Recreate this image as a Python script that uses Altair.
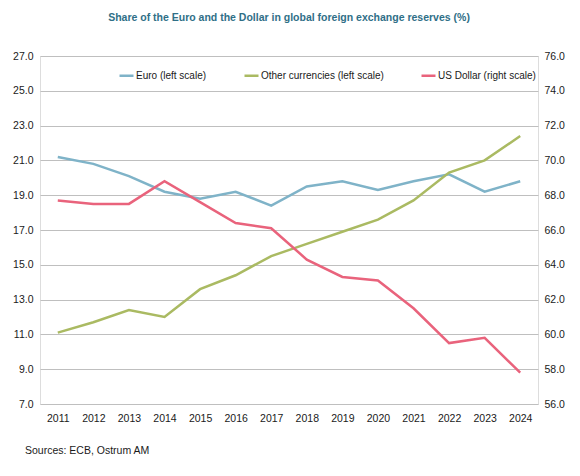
import altair as alt
import pandas as pd

years = [str(y) for y in range(2011, 2025)]
euro = [21.2, 20.8, 20.1, 19.2, 18.8, 19.2, 18.4, 19.5, 19.8, 19.3, 19.8, 20.2, 19.2, 19.8]
other = [11.1, 11.7, 12.4, 12.0, 13.6, 14.4, 15.5, 16.2, 16.9, 17.6, 18.7, 20.3, 21.0, 22.4]
usd = [67.7, 67.5, 67.5, 68.8, 67.6, 66.4, 66.1, 64.3, 63.3, 63.1, 61.5, 59.5, 59.8, 57.8]

series_names = ["Euro (left scale)", "Other currencies (left scale)", "US Dollar (right scale)"]
series_colors = ["#7FB3C8", "#AABA62", "#E9637C"]
left_ticks = [7, 9, 11, 13, 15, 17, 19, 21, 23, 25, 27]
right_ticks = [56, 58, 60, 62, 64, 66, 68, 70, 72, 74, 76]
title_text = "Share of the Euro and the Dollar in global foreign exchange reserves (%)"
source_text = ["Sources: ECB, Ostrum AM"]

FONT = "Liberation Sans, Arial, sans-serif"
TXT = "#1A1A1A"

left_df = pd.DataFrame({
    "year": years * 2,
    "value": euro + other,
    "series": [series_names[0]] * len(years) + [series_names[1]] * len(years),
})
right_df = pd.DataFrame({
    "year": years,
    "value": usd,
    "series": [series_names[2]] * len(years),
})

color = alt.Color(
    "series:N",
    scale=alt.Scale(domain=series_names, range=series_colors),
    legend=alt.Legend(
        title=None, orient="none", direction="horizontal",
        legendX=78, legendY=11, symbolType="stroke", symbolStrokeWidth=2.5,
        symbolSize=196, labelFontSize=10, labelFont=FONT, columnPadding=32,
        labelColor=TXT, labelOffset=1,
    ),
)

xenc = alt.X(
    "year:O", sort=years, title=None,
    scale=alt.Scale(paddingOuter=0.5),
    axis=alt.Axis(labelAngle=0, domain=False, ticks=False, labelPadding=9,
                  labelFontSize=10.5, labelFont=FONT, labelColor=TXT),
)

left = alt.Chart(left_df).mark_line(strokeWidth=2.5).encode(
    x=xenc,
    y=alt.Y("value:Q", title=None,
            scale=alt.Scale(domain=[7, 27], nice=False, zero=False),
            axis=alt.Axis(values=left_ticks, format=".1f", domain=False, ticks=False,
                          grid=True, gridColor="#BFBFBF", gridWidth=1,
                          labelPadding=7, labelFontSize=10.5, labelFont=FONT,
                          labelColor=TXT)),
    color=color,
)

right = alt.Chart(right_df).mark_line(strokeWidth=2.5).encode(
    x=xenc,
    y=alt.Y("value:Q", title=None,
            scale=alt.Scale(domain=[56, 76], nice=False, zero=False),
            axis=alt.Axis(orient="right", values=right_ticks, format=".1f", domain=False,
                          ticks=False, grid=False, labelPadding=6, labelFontSize=10.5,
                          labelFont=FONT, labelColor=TXT)),
    color=color,
)

sources = alt.Chart(pd.DataFrame({"t": source_text})).mark_text(
    align="left", baseline="middle", fontSize=10.5, font=FONT, color=TXT
).encode(text="t:N", x=alt.value(-15), y=alt.value(395))

chart = alt.layer(left, right, sources).resolve_scale(y="independent").properties(
    width=498, height=348,
    autosize=alt.AutoSizeParams(type="none"),
    padding={"left": 32, "top": 48, "right": 34, "bottom": 60},
    title=alt.TitleParams(title_text, fontSize=10.5, font=FONT, fontWeight="bold",
                          color="#2F6F87", anchor="middle", offset=28),
).configure_view(stroke=None).configure(background="white")

chart.save("out.html", embed_options={"renderer": "svg", "actions": False})
